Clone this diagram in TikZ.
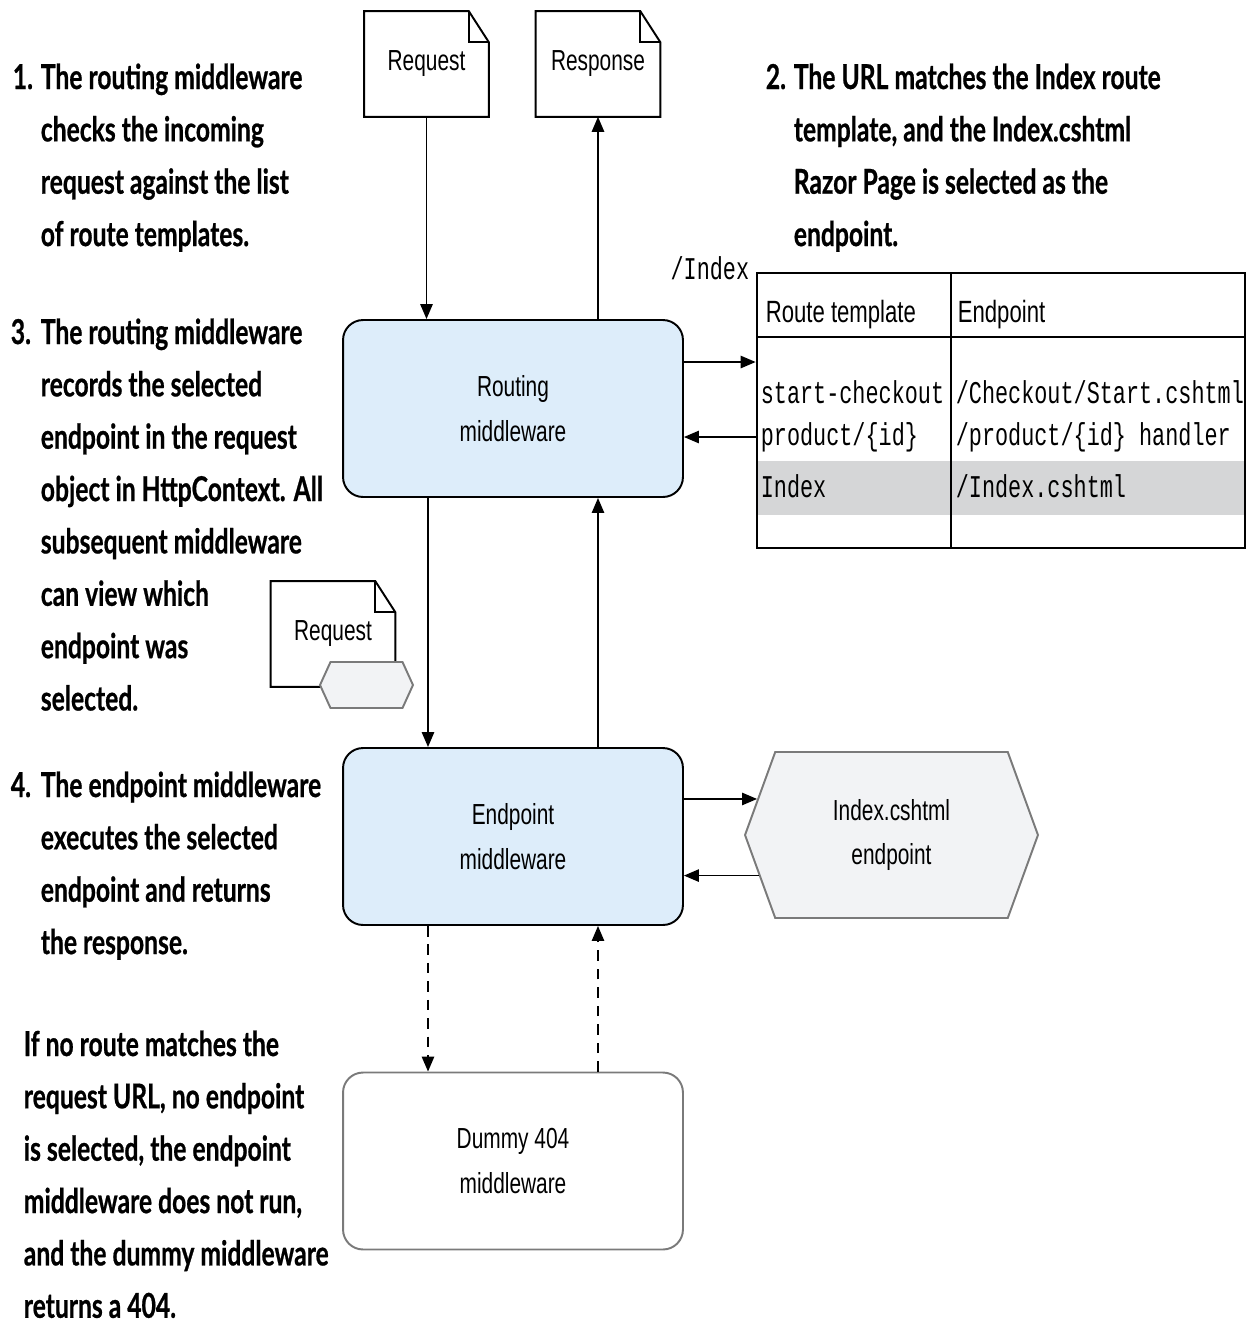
\documentclass[tikz,border=0pt]{standalone}
\usepackage{fontspec}
\setmainfont{Liberation Sans}[FakeStretch=0.72]
\newfontfamily\notefont{Lato}[FakeStretch=0.72, BoldFeatures={FakeBold=0.6}]
\newfontfamily\codefont{Liberation Mono}[FakeStretch=0.69]
\usetikzlibrary{positioning,calc,arrows.meta,shapes.symbols}

\definecolor{mwblue}{HTML}{DDEDFA}
\definecolor{rowgray}{HTML}{D5D6D7}
\definecolor{tagfill}{HTML}{F2F3F5}
\definecolor{edgegray}{HTML}{7A7A7A}

\tikzset{
  mw/.style={draw, line width=1.1pt, rounded corners=0.4cm,
    minimum width=6.8cm, minimum height=3.54cm, align=center,
    font=\fontsize{16.5}{25.5}\selectfont},
  paper/.style={minimum width=2.46cm, minimum height=2.08cm, inner sep=0,
    font=\fontsize{16.5}{20}\selectfont},
  paperline/.style={line width=1.1pt},
  tag/.style={signal, signal to=east and west, draw=edgegray, fill=tagfill,
    line width=1.1pt, inner sep=0, align=center,
    font=\fontsize{16.5}{25.5}\selectfont},
  note/.style={anchor=base west, inner sep=0,
    font=\notefont\bfseries\fontsize{19.5}{29.8}\selectfont},
  cell/.style={anchor=base west, inner sep=0},
  head/.style={cell, font=\fontsize{17.5}{21}\selectfont},
  code/.style={cell, font=\codefont\fontsize{18}{22}\selectfont},
}

\begin{document}
\begin{tikzpicture}[x=0.02cm, y=-0.02cm, line width=0.95pt,
    >={Triangle[length=8.5pt,width=7pt]}]
  \useasboundingbox (0,0) rectangle (1247,1323);

  % notes
  \node[note] (note1) at (12,89) {\makebox[0.56cm][l]{1.}\begin{tabular}[t]{@{}l@{}}The routing middleware\\checks the incoming\\request against the list\\of route templates.\end{tabular}};
  \node[note] (note2) at (765,89) {\makebox[0.56cm][l]{2.}\begin{tabular}[t]{@{}l@{}}The URL matches the Index route\\template, and the Index.cshtml\\Razor Page is selected as the\\endpoint.\end{tabular}};
  \node[note] (note3) at (10,344) {\makebox[0.6cm][l]{3.}\begin{tabular}[t]{@{}l@{}}The routing middleware\\records the selected\\endpoint in the request\\object in HttpContext. All\\subsequent middleware\\can view which\\endpoint was\\selected.\end{tabular}};
  \node[note] (note4) at (10,797) {\makebox[0.6cm][l]{4.}\begin{tabular}[t]{@{}l@{}}The endpoint middleware\\executes the selected\\endpoint and returns\\the response.\end{tabular}};
  \node[note] (note5) at (23,1056) {\begin{tabular}[t]{@{}l@{}}If no route matches the\\request URL, no endpoint\\is selected, the endpoint\\middleware does not run,\\and the dummy middleware\\returns a 404.\end{tabular}};

  % request / response papers
  \node[paper] (req) at (426.5,64) {Request};
  \node[paper] (resp) at (598,64) {Response};
  \node[paper] (req2) at (333,634) {Request};
  \foreach \d in {req,resp,req2} {
    \draw[paperline] (\d.north west) -- ($(\d.north east)+(-20,0)$)
      -- ($(\d.north east)+(0,31)$) -- (\d.south east) -- (\d.south west) -- cycle;
    \draw[paperline] ($(\d.north east)+(-20,0)$) |- ($(\d.north east)+(0,31)$);
  }
  \node[tag, minimum width=1.86cm, minimum height=0.92cm,
    signal pointer angle=131] (reqtag) at (366.5,685) {};

  % middleware
  \node[mw, fill=mwblue] (routing) at (513,408.5) {Routing\\middleware};
  \node[mw, fill=mwblue] (endpt) at (513,836.5) {Endpoint\\middleware};
  \node[mw, draw=edgegray, fill=white] (dummy) at (513,1161) {Dummy 404\\middleware};

  % route table
  \fill[rowgray] (757,461) rectangle (1245,515);
  \node[draw, line width=1.6pt, minimum width=9.76cm, minimum height=5.5cm,
    inner sep=0] (routes) at (1001,410.5) {};
  \draw[line width=1.6pt] (757,337) -- (1245,337);
  \draw[line width=1.1pt] (951,273) -- (951,548);
  \node[code, anchor=base east] (idxlabel) at (750,279) {/Index};
  \node[head] (hroute) at (765,322) {Route template};
  \node[head] (hend) at (957,322) {Endpoint};
  \node[code] (r1a) at (760,403) {start-checkout};
  \node[code] (r1b) at (955,403) {/Checkout/Start.cshtml};
  \node[code] (r2a) at (760,445) {product/\{id\}};
  \node[code] (r2b) at (955,445) {/product/\{id\} handler};
  \node[code] (r3a) at (760,497) {Index};
  \node[code] (r3b) at (955,497) {/Index.cshtml};

  % endpoint page
  \node[tag, minimum width=5.86cm, minimum height=3.32cm,
    signal pointer angle=140] (idxpage) at (891.5,835) {Index.cshtml\\endpoint};

  % connectors
  \draw[->] (req.south) -- (req.south |- routing.north);
  \draw[->] (routing.north -| resp.south) -- (resp.south);
  \coordinate (rdown) at ($(routing.south)+(-85,0)$);
  \coordinate (rup) at ($(routing.south)+(85,0)$);
  \draw[->] (rdown) -- (rdown |- endpt.north);
  \draw[->] (rup |- endpt.north) -- (rup);
  \coordinate (rtout) at ($(routing.east)+(0,-46.5)$);
  \coordinate (rtin) at ($(routing.east)+(0,28.5)$);
  \draw[->] (rtout) -- (rtout -| routes.west);
  \draw[->] (rtin -| routes.west) -- (rtin);
  \draw[->] (idxpage.165 -| endpt.east) -- (idxpage.165);
  \draw[->] (idxpage.197) -- (idxpage.197 -| endpt.east);
  \coordinate (edown) at ($(endpt.south)+(-85,0)$);
  \coordinate (eup) at ($(endpt.south)+(85,0)$);
  \draw[->, dashed, dash pattern=on 6pt off 4.5pt] (edown) -- (edown |- dummy.north);
  \draw[->, dashed, dash pattern=on 6pt off 4.5pt] (eup |- dummy.north) -- (eup);
\end{tikzpicture}
\end{document}
